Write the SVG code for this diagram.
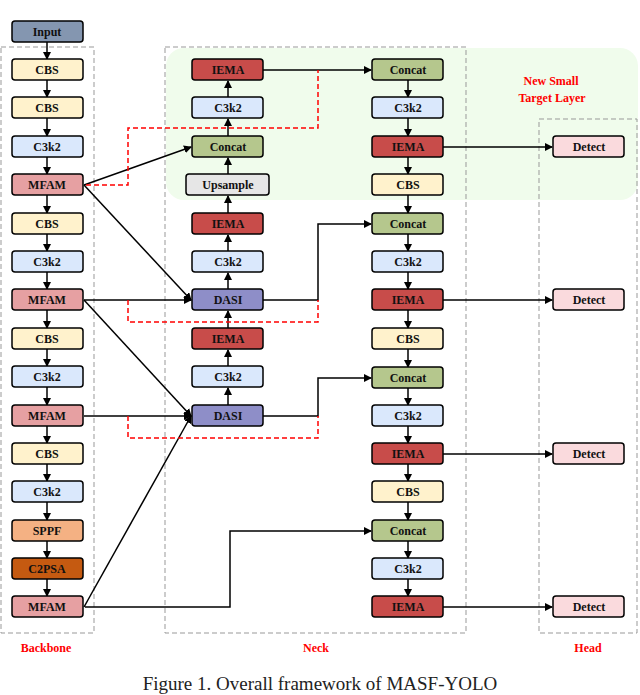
<svg xmlns="http://www.w3.org/2000/svg" width="640" height="695" viewBox="0 0 640 695">
<defs>
<marker id="ah" markerWidth="8" markerHeight="8" refX="7" refY="4" orient="auto" markerUnits="userSpaceOnUse"><path d="M0,0 L8,4 L0,8 z" fill="#000"/></marker>
</defs>
<style>
.b{stroke:#000;stroke-width:1.5}
.t{font-family:"Liberation Serif",serif;font-weight:bold;font-size:12px;text-anchor:middle;dominant-baseline:central;fill:#111}
.cbs{fill:#fff2cc}.c3{fill:#dae8fc}.mf{fill:#e6a0a2}.ie{fill:#c84c4a}.cc{fill:#b5c78d}.up{fill:#e6e6e6}.da{fill:#8e8ec8}.de{fill:#fadadd}.in{fill:#8496b0}.sp{fill:#f4b183}.c2{fill:#c55a11}
.l{stroke:#000;stroke-width:1.5;fill:none}
.la{stroke:#000;stroke-width:1.5;fill:none;marker-end:url(#ah)}
.rd{stroke:#f00;stroke-width:1.5;fill:none;stroke-dasharray:5,3}
.gd{stroke:#999;stroke-width:1;fill:none;stroke-dasharray:5,3}
.lab{font-family:"Liberation Serif",serif;font-weight:bold;font-size:12px;fill:#f00;text-anchor:middle}
</style>
<rect x="166" y="48" width="472" height="152" rx="18" fill="#f0fcec"/>
<rect x="1" y="47" width="93" height="586" class="gd"/>
<rect x="165" y="47" width="301" height="586" class="gd"/>
<rect x="539" y="119" width="98" height="514" class="gd"/>
<g id="connectors">
<path class="la" d="M47,42V59"/><path class="la" d="M47,80V97"/><path class="la" d="M47,118V136"/><path class="la" d="M47,157V174"/><path class="la" d="M47,195V213"/><path class="la" d="M47,234V251"/><path class="la" d="M47,272V289"/><path class="la" d="M47,310V328"/><path class="la" d="M47,349V366"/><path class="la" d="M47,387V405"/><path class="la" d="M47,426V443"/><path class="la" d="M47,464V481"/><path class="la" d="M47,502V520"/><path class="la" d="M47,541V558"/><path class="la" d="M47,579V596"/>
<path class="la" d="M228,405V388"/><path class="la" d="M228,366V350"/><path class="la" d="M228,328V311"/><path class="la" d="M228,289V273"/><path class="la" d="M228,251V235"/><path class="la" d="M228,213V196"/><path class="la" d="M228,174V158"/><path class="la" d="M228,136V119"/><path class="la" d="M228,97V81"/>
<path class="la" d="M408,80V97"/><path class="la" d="M408,118V136"/><path class="la" d="M408,157V174"/><path class="la" d="M408,195V213"/><path class="la" d="M408,234V251"/><path class="la" d="M408,272V289"/><path class="la" d="M408,310V328"/><path class="la" d="M408,349V367"/><path class="la" d="M408,388V405"/><path class="la" d="M408,426V443"/><path class="la" d="M408,464V481"/><path class="la" d="M408,502V520"/><path class="la" d="M408,541V558"/><path class="la" d="M408,579V596"/>
<path class="la" d="M263,70H371"/>
<path class="la" d="M263,300H318V224H371"/>
<path class="la" d="M263,416H318V378H371"/>
<path class="la" d="M85,607H230V531H371"/>
<path class="la" d="M443,147H552"/><path class="la" d="M443,300H552"/><path class="la" d="M443,454H552"/><path class="la" d="M443,607H552"/>
<path class="la" d="M84,185L191,147"/>
<path class="la" d="M84,185L191,300"/>
<path class="la" d="M84,300H191"/>
<path class="la" d="M84,300L191,416"/>
<path class="la" d="M84,416H191"/>
<path class="la" d="M84,607L191,416"/>
<path class="rd" d="M86,185H128V128H318V70"/>
<path class="rd" d="M128,300V322H318V300"/>
<path class="rd" d="M128,416V438H318V416"/>
</g>
<g id="bb_input"><rect x="12" y="21" width="71" height="21" rx="3" class="b in"/><text x="47" y="32" class="t">Input</text></g>
<g id="bb1"><rect x="12" y="59" width="71" height="21" rx="3" class="b cbs"/><text x="47" y="70" class="t">CBS</text></g>
<g id="bb2"><rect x="12" y="97" width="71" height="21" rx="3" class="b cbs"/><text x="47" y="108" class="t">CBS</text></g>
<g id="bb3"><rect x="12" y="136" width="71" height="21" rx="3" class="b c3"/><text x="47" y="147" class="t">C3k2</text></g>
<g id="bb4"><rect x="12" y="174" width="71" height="21" rx="3" class="b mf"/><text x="47" y="185" class="t">MFAM</text></g>
<g id="bb5"><rect x="12" y="213" width="71" height="21" rx="3" class="b cbs"/><text x="47" y="224" class="t">CBS</text></g>
<g id="bb6"><rect x="12" y="251" width="71" height="21" rx="3" class="b c3"/><text x="47" y="262" class="t">C3k2</text></g>
<g id="bb7"><rect x="12" y="289" width="71" height="21" rx="3" class="b mf"/><text x="47" y="300" class="t">MFAM</text></g>
<g id="bb8"><rect x="12" y="328" width="71" height="21" rx="3" class="b cbs"/><text x="47" y="339" class="t">CBS</text></g>
<g id="bb9"><rect x="12" y="366" width="71" height="21" rx="3" class="b c3"/><text x="47" y="377" class="t">C3k2</text></g>
<g id="bb10"><rect x="12" y="405" width="71" height="21" rx="3" class="b mf"/><text x="47" y="416" class="t">MFAM</text></g>
<g id="bb11"><rect x="12" y="443" width="71" height="21" rx="3" class="b cbs"/><text x="47" y="454" class="t">CBS</text></g>
<g id="bb12"><rect x="12" y="481" width="71" height="21" rx="3" class="b c3"/><text x="47" y="492" class="t">C3k2</text></g>
<g id="bb13"><rect x="12" y="520" width="71" height="21" rx="3" class="b sp"/><text x="47" y="531" class="t">SPPF</text></g>
<g id="bb14"><rect x="12" y="558" width="71" height="21" rx="3" class="b c2"/><text x="47" y="569" class="t">C2PSA</text></g>
<g id="bb15"><rect x="12" y="596" width="71" height="21" rx="3" class="b mf"/><text x="47" y="607" class="t">MFAM</text></g>
<g id="n1"><rect x="192" y="59" width="71" height="21" rx="3" class="b ie"/><text x="228" y="70" class="t">IEMA</text></g>
<g id="n2"><rect x="192" y="97" width="71" height="21" rx="3" class="b c3"/><text x="228" y="108" class="t">C3k2</text></g>
<g id="n3"><rect x="192" y="136" width="71" height="21" rx="3" class="b cc"/><text x="228" y="147" class="t">Concat</text></g>
<g id="n4"><rect x="186" y="174" width="83" height="21" rx="3" class="b up"/><text x="228" y="185" class="t">Upsample</text></g>
<g id="n5"><rect x="192" y="213" width="71" height="21" rx="3" class="b ie"/><text x="228" y="224" class="t">IEMA</text></g>
<g id="n6"><rect x="192" y="251" width="71" height="21" rx="3" class="b c3"/><text x="228" y="262" class="t">C3k2</text></g>
<g id="n7"><rect x="192" y="289" width="71" height="21" rx="3" class="b da"/><text x="228" y="300" class="t">DASI</text></g>
<g id="n8"><rect x="192" y="328" width="71" height="21" rx="3" class="b ie"/><text x="228" y="339" class="t">IEMA</text></g>
<g id="n9"><rect x="192" y="366" width="71" height="21" rx="3" class="b c3"/><text x="228" y="377" class="t">C3k2</text></g>
<g id="n10"><rect x="192" y="405" width="71" height="21" rx="3" class="b da"/><text x="228" y="416" class="t">DASI</text></g>
<g id="r1"><rect x="372" y="59" width="71" height="21" rx="3" class="b cc"/><text x="408" y="70" class="t">Concat</text></g>
<g id="r2"><rect x="372" y="97" width="71" height="21" rx="3" class="b c3"/><text x="408" y="108" class="t">C3k2</text></g>
<g id="r3"><rect x="372" y="136" width="71" height="21" rx="3" class="b ie"/><text x="408" y="147" class="t">IEMA</text></g>
<g id="r4"><rect x="372" y="174" width="71" height="21" rx="3" class="b cbs"/><text x="408" y="185" class="t">CBS</text></g>
<g id="r5"><rect x="372" y="213" width="71" height="21" rx="3" class="b cc"/><text x="408" y="224" class="t">Concat</text></g>
<g id="r6"><rect x="372" y="251" width="71" height="21" rx="3" class="b c3"/><text x="408" y="262" class="t">C3k2</text></g>
<g id="r7"><rect x="372" y="289" width="71" height="21" rx="3" class="b ie"/><text x="408" y="300" class="t">IEMA</text></g>
<g id="r8"><rect x="372" y="328" width="71" height="21" rx="3" class="b cbs"/><text x="408" y="339" class="t">CBS</text></g>
<g id="r9"><rect x="372" y="367" width="71" height="21" rx="3" class="b cc"/><text x="408" y="378" class="t">Concat</text></g>
<g id="r10"><rect x="372" y="405" width="71" height="21" rx="3" class="b c3"/><text x="408" y="416" class="t">C3k2</text></g>
<g id="r11"><rect x="372" y="443" width="71" height="21" rx="3" class="b ie"/><text x="408" y="454" class="t">IEMA</text></g>
<g id="r12"><rect x="372" y="481" width="71" height="21" rx="3" class="b cbs"/><text x="408" y="492" class="t">CBS</text></g>
<g id="r13"><rect x="372" y="520" width="71" height="21" rx="3" class="b cc"/><text x="408" y="531" class="t">Concat</text></g>
<g id="r14"><rect x="372" y="558" width="71" height="21" rx="3" class="b c3"/><text x="408" y="569" class="t">C3k2</text></g>
<g id="r15"><rect x="372" y="596" width="71" height="21" rx="3" class="b ie"/><text x="408" y="607" class="t">IEMA</text></g>
<g id="d1"><rect x="553" y="136" width="71" height="21" rx="3" class="b de"/><text x="589" y="147" class="t">Detect</text></g>
<g id="d2"><rect x="553" y="289" width="71" height="21" rx="3" class="b de"/><text x="589" y="300" class="t">Detect</text></g>
<g id="d3"><rect x="553" y="443" width="71" height="21" rx="3" class="b de"/><text x="589" y="454" class="t">Detect</text></g>
<g id="d4"><rect x="553" y="596" width="71" height="21" rx="3" class="b de"/><text x="589" y="607" class="t">Detect</text></g>
<text x="551" y="85" class="lab">New Small</text>
<text x="552" y="102" class="lab">Target Layer</text>
<text x="46" y="652" class="lab">Backbone</text>
<text x="316" y="652" class="lab">Neck</text>
<text x="588" y="652" class="lab">Head</text>
<text x="320" y="690" font-family="Liberation Serif,serif" font-size="19" text-anchor="middle" fill="#222">Figure 1. Overall framework of MASF-YOLO</text>
</svg>
